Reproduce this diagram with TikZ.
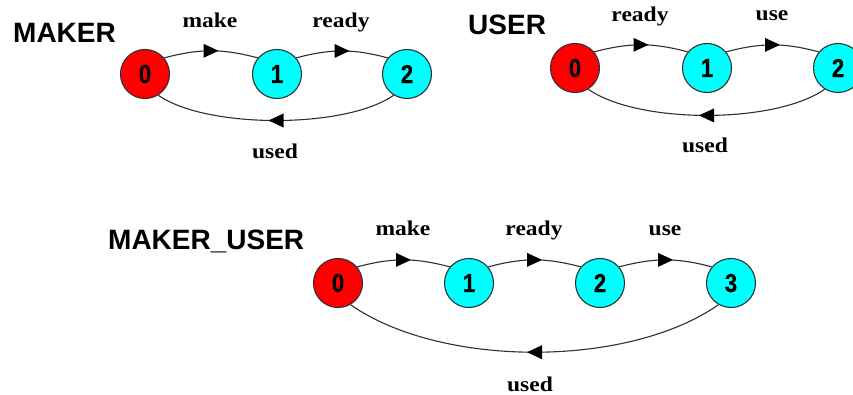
\documentclass[tikz,border=0pt]{standalone}
\usepackage{fontspec}
\usetikzlibrary{decorations.markings}
\newfontfamily\titlefont{Liberation Sans}
\newfontfamily\digitfont[FakeStretch=0.85,FakeBold=0.5]{Liberation Sans Bold}
\newfontfamily\labelfont[FakeStretch=1.12]{Liberation Serif}
\definecolor{stred}{HTML}{FF0000}
\definecolor{stcyan}{HTML}{00FFFF}
\definecolor{edgecol}{HTML}{303030}
\tikzset{
  state/.style={circle, draw=edgecol, line width=1.1pt, minimum size=49pt, inner sep=0pt,
    font=\digitfont\fontsize{26}{26}\selectfont},
  startst/.style={state, fill=stred},
  otherst/.style={state, fill=stcyan},
  title/.style={anchor=base west, inner sep=0pt, font=\titlefont\bfseries\fontsize{28}{28}\selectfont},
  lbl/.style={anchor=base, inner sep=0pt, font=\labelfont\bfseries\fontsize{21}{21}\selectfont},
  trans/.style={draw=edgecol, line width=1.1pt,
    postaction={decorate},
    decoration={markings, mark=at position 0.5 with {\fill[black] (-7.5pt,7pt) -- (7.5pt,0pt) -- (-7.5pt,-7pt) -- cycle;}}}
}
\begin{document}
\begin{tikzpicture}[x=1pt,y=-1pt]
\useasboundingbox (0,0) rectangle (853,395);
\clip (0,0) rectangle (853,395);
% MAKER
\node[title] (tmaker) at (13,43) {MAKER};
\node[startst] (a0) at (145,74) {0};
\node[otherst] (a1) at (277,74) {1};
\node[otherst] (a2) at (407,74) {2};
\draw[trans] (a0.40) to[out=15,in=165] (a1.140);
\draw[trans] (a1.40) to[out=15,in=165] (a2.140);
\draw[trans] (a2.-122) to[out=-145,in=-35,looseness=0.64] (a0.-58);
\node[lbl] (lamake) at (210,28) {make};
\node[lbl] (laready) at (341,28) {ready};
\node[lbl] (laused) at (275,159) {used};
% USER
\node[title] (tuser) at (468,35) {USER};
\node[startst] (b0) at (575,68) {0};
\node[otherst] (b1) at (707,68) {1};
\node[otherst] (b2) at (838,68) {2};
\draw[trans] (b0.40) to[out=15,in=165] (b1.140);
\draw[trans] (b1.40) to[out=15,in=165] (b2.140);
\draw[trans] (b2.-122) to[out=-145,in=-35,looseness=0.66] (b0.-58);
\node[lbl] (lbready) at (640,22) {ready};
\node[lbl] (lbuse) at (772,21) {use};
\node[lbl] (lbused) at (705,153) {used};
% MAKER_USER
\node[title] (tmu) at (108,250) {MAKER\_USER};
\node[startst] (c0) at (338,283) {0};
\node[otherst] (c1) at (469,283) {1};
\node[otherst] (c2) at (600,283) {2};
\node[otherst] (c3) at (731,283) {3};
\draw[trans] (c0.40) to[out=15,in=165] (c1.140);
\draw[trans] (c1.40) to[out=15,in=165] (c2.140);
\draw[trans] (c2.40) to[out=15,in=165] (c3.140);
\draw[trans] (c3.-120) to[out=-145,in=-35,looseness=0.77] (c0.-60);
\node[lbl] (lcmake) at (403,236) {make};
\node[lbl] (lcready) at (534,236) {ready};
\node[lbl] (lcuse) at (665,236) {use};
\node[lbl] (lcused) at (530,391) {used};
\end{tikzpicture}
\end{document}
